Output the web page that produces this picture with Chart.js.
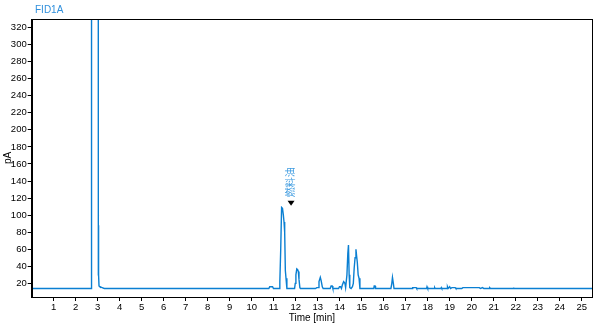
<!DOCTYPE html>
<html>
<head>
<meta charset="utf-8">
<script src="https://cdn.jsdelivr.net/npm/chart.js@4.4.1/dist/chart.umd.min.js"></script>
<style>
html,body{margin:0;padding:0;background:#fff;}
#wrap{width:600px;height:324px;position:relative;}
</style>
</head>
<body>
<div id="wrap"><canvas id="c" width="600" height="324"></canvas></div>
<script>
const chartTitle = "FID1A";
const xTitle = "Time [min]";
const yTitle = "pA";
const peakLabel = "燃料油";
const peakLabelTime = 11.79;
const peakLabelValue = 114;

const xTicks = [1,2,3,4,5,6,7,8,9,10,11,12,13,14,15,16,17,18,19,20,21,22,23,24,25];
const yTicks = [20,40,60,80,100,120,140,160,180,200,220,240,260,280,300,320];

const timeMin = [0,2.70,2.72,3.01,3.03,3.035,3.045,3.06,3.10,3.20,3.30,
  10.78,10.82,10.95,10.99,11.25,11.28,11.32,11.36,11.40,11.44,11.47,11.50,11.53,11.56,11.60,
  11.95,11.98,12.01,12.05,12.09,12.12,12.15,12.19,12.22,
  12.90,12.96,13.02,13.06,13.12,13.16,13.21,13.25,
  13.57,13.61,13.66,13.69,13.95,13.99,14.04,14.08,14.12,14.18,14.24,14.27,
  14.33,14.37,14.40,14.43,14.46,14.52,14.58,14.62,14.66,14.70,14.74,14.77,14.80,14.84,14.88,14.92,
  15.55,15.57,15.61,15.63,16.33,16.37,16.40,16.44,16.47,
  17.30,17.32,17.48,17.50,17.95,17.97,18.00,18.30,18.32,18.34,18.60,18.62,18.64,
  18.88,18.90,18.93,19.00,19.04,19.10,19.25,19.28,19.55,19.60,20.35,20.40,20.50,20.55,
  20.80,20.82,20.86,21.88,21.90,21.92,25.50];
const signalPA = [14,14,2000,2000,30,88,30,17,16,15,14,
  14,16,16,14,14,22,60,109,108,100,92,80,35,26,14,
  14,20,30,37,36,34,25,15,14,
  14,15,15,22,27,23,16,14,
  14,17,17,14,14,16,16,14,18,22,20,15,
  30,55,65,30,15,14,16,20,38,50,60,52,45,30,26,14,
  14,17,17,14,14,20,27,20,14,
  14,15,15,14,14,16,14,14,15,14,14,15,14,
  14,16,14,16,14,15,15,14,14,15,15,14,15,14,
  14,15,14,14,15,14,14];

const points = timeMin.map((t,i)=>({x:t,y:signalPA[i]}));
const FONT = "'Liberation Sans', Arial, sans-serif";

const framePlugin = {
  id:'frame',
  afterDraw(chart){
    const {ctx, chartArea:a, scales} = chart;
    ctx.save();
    ctx.strokeStyle = '#000';
    ctx.lineWidth = 1;
    ctx.strokeRect(Math.round(a.left)+0.5, Math.round(a.top)+0.5, Math.round(a.right-a.left), Math.round(a.bottom-a.top));
    // title
    ctx.fillStyle = '#2f8fdc';
    ctx.font = "10px " + FONT;
    ctx.textBaseline = 'middle';
    ctx.textAlign = 'left';
    ctx.fillText(chartTitle, 35, 10);
    // annotation
    const px = scales.x.getPixelForValue(peakLabelTime);
    const py = scales.y.getPixelForValue(peakLabelValue);
    ctx.fillStyle = '#000';
    ctx.beginPath();
    ctx.moveTo(px-3.5, py-2.5);
    ctx.lineTo(px+3.5, py-2.5);
    ctx.lineTo(px, py+2.5);
    ctx.closePath();
    ctx.fill();
    ctx.translate(px-1, py-21);
    ctx.rotate(-Math.PI/2);
    ctx.fillStyle = '#3d9be0';
    ctx.font = "10px 'Noto Sans CJK SC', sans-serif";
    ctx.textAlign = 'center';
    ctx.textBaseline = 'middle';
    ctx.fillText(peakLabel, 0, 0);
    ctx.restore();
  }
};

new Chart(document.getElementById('c'), {
  type:'line',
  data:{datasets:[{data:points, borderColor:'#0a7fd2', borderWidth:1.4, pointRadius:0, tension:0, fill:false}]},
  options:{
    responsive:false, animation:false,
    layout:{padding:{left:0,right:8,top:19,bottom:0}},
    plugins:{legend:{display:false}, tooltip:{enabled:false}},
    scales:{
      x:{type:'linear', min:0, max:25.47,
        afterBuildTicks(s){ s.ticks = xTicks.map(v=>({value:v})); },
        afterFit(s){ s.height = 27; },
        grid:{drawOnChartArea:false, drawTicks:true, tickLength:4, color:'#000'},
        border:{display:true, color:'#000'},
        ticks:{color:'#000', font:{family:FONT, size:9.5}, padding:1, maxRotation:0, autoSkip:false},
        title:{display:true, text:xTitle, color:'#000', font:{family:FONT, size:10}, padding:{top:0,bottom:0}}
      },
      y:{type:'linear', min:4, max:330,
        afterBuildTicks(s){ s.ticks = yTicks.map(v=>({value:v})); },
        afterFit(s){ s.width = 31.7; },
        grid:{drawOnChartArea:false, drawTicks:true, tickLength:4, color:'#000'},
        border:{display:true, color:'#000'},
        ticks:{color:'#000', font:{family:FONT, size:9.5}, padding:1, autoSkip:false},
        title:{display:true, text:yTitle, color:'#000', font:{family:FONT, size:10}, padding:{top:2,bottom:0}}
      }
    }
  },
  plugins:[framePlugin]
});
</script>
</body>
</html>
